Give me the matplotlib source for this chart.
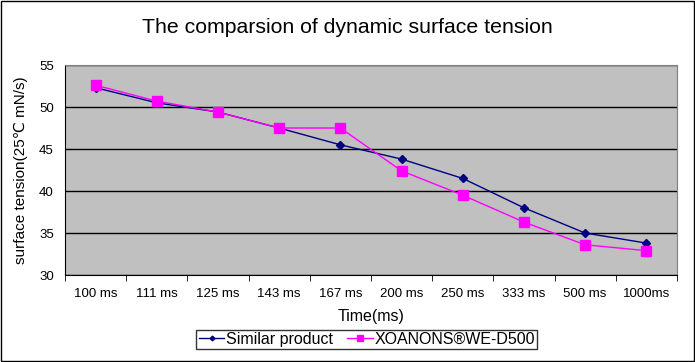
import numpy as np
import matplotlib.pyplot as plt
from matplotlib.patches import Rectangle

plt.rcParams['font.family'] = ['Liberation Sans', 'DejaVu Sans']

times = ['100 ms', '111 ms', '125 ms', '143 ms', '167 ms', '200 ms', '250 ms', '333 ms', '500 ms', '1000ms']
similar = [52.3, 50.5, 49.4, 47.5, 45.5, 43.8, 41.5, 38.0, 35.0, 33.8]
xoanons = [52.6, 50.7, 49.4, 47.5, 47.5, 42.4, 39.5, 36.3, 33.6, 32.9]

fig = plt.figure(figsize=(6.95, 3.62), dpi=100)
ax = fig.add_axes([0.0935, 0.2403, 0.8805, 0.5801])
ax.set_facecolor('#C0C0C0')

x = np.arange(len(times))
ax.plot(x, similar, color='#000080', marker='D', markersize=4, linewidth=1, label='Similar product')
ax.plot(x, xoanons, color='#FF00FF', marker='s', markersize=7, linewidth=1, label='XOANONS®WE-D500')

ax.set_xlim(-0.5, len(times) - 0.5)
ax.set_ylim(30, 55)
ax.set_yticks([30, 35, 40, 45, 50, 55])
ax.yaxis.grid(True, color='black', linewidth=1)
ax.set_axisbelow(True)
ax.tick_params(axis='y', length=0, labelsize=9.5, pad=8)

ax.set_xticks(x)
ax.set_xticklabels(times, fontsize=9.5)
ax.tick_params(axis='x', which='major', length=0, pad=9)
ax.set_xticks(np.arange(-0.5, len(times)), minor=True)
ax.tick_params(axis='x', which='minor', length=4, direction='out', color='black')

for s in ['top', 'right']:
    ax.spines[s].set_color('#808080')
for s in ['left', 'bottom']:
    ax.spines[s].set_color('black')

ax.set_xlabel('Time(ms)', fontsize=11.5, labelpad=7)
ax.set_ylabel('surface tension(25℃ mN/s)', fontsize=11, labelpad=8)
fig.text(0.5, 0.923, 'The comparsion of dynamic surface tension', ha='center', va='center', fontsize=15.3)

leg = fig.legend(loc='center', bbox_to_anchor=(0.528, 0.062), ncol=2, fontsize=11.5, frameon=True,
                 fancybox=False, edgecolor='black', borderpad=0.15, handlelength=1.6,
                 handletextpad=0.1, columnspacing=0.9, markerscale=0.6)
leg.get_frame().set_linewidth(1)

fig.patches.append(Rectangle((0.002, 0.003), 0.996, 0.994, transform=fig.transFigure,
                             fill=False, edgecolor='black', linewidth=1))

fig.savefig('out.png', dpi=100)
